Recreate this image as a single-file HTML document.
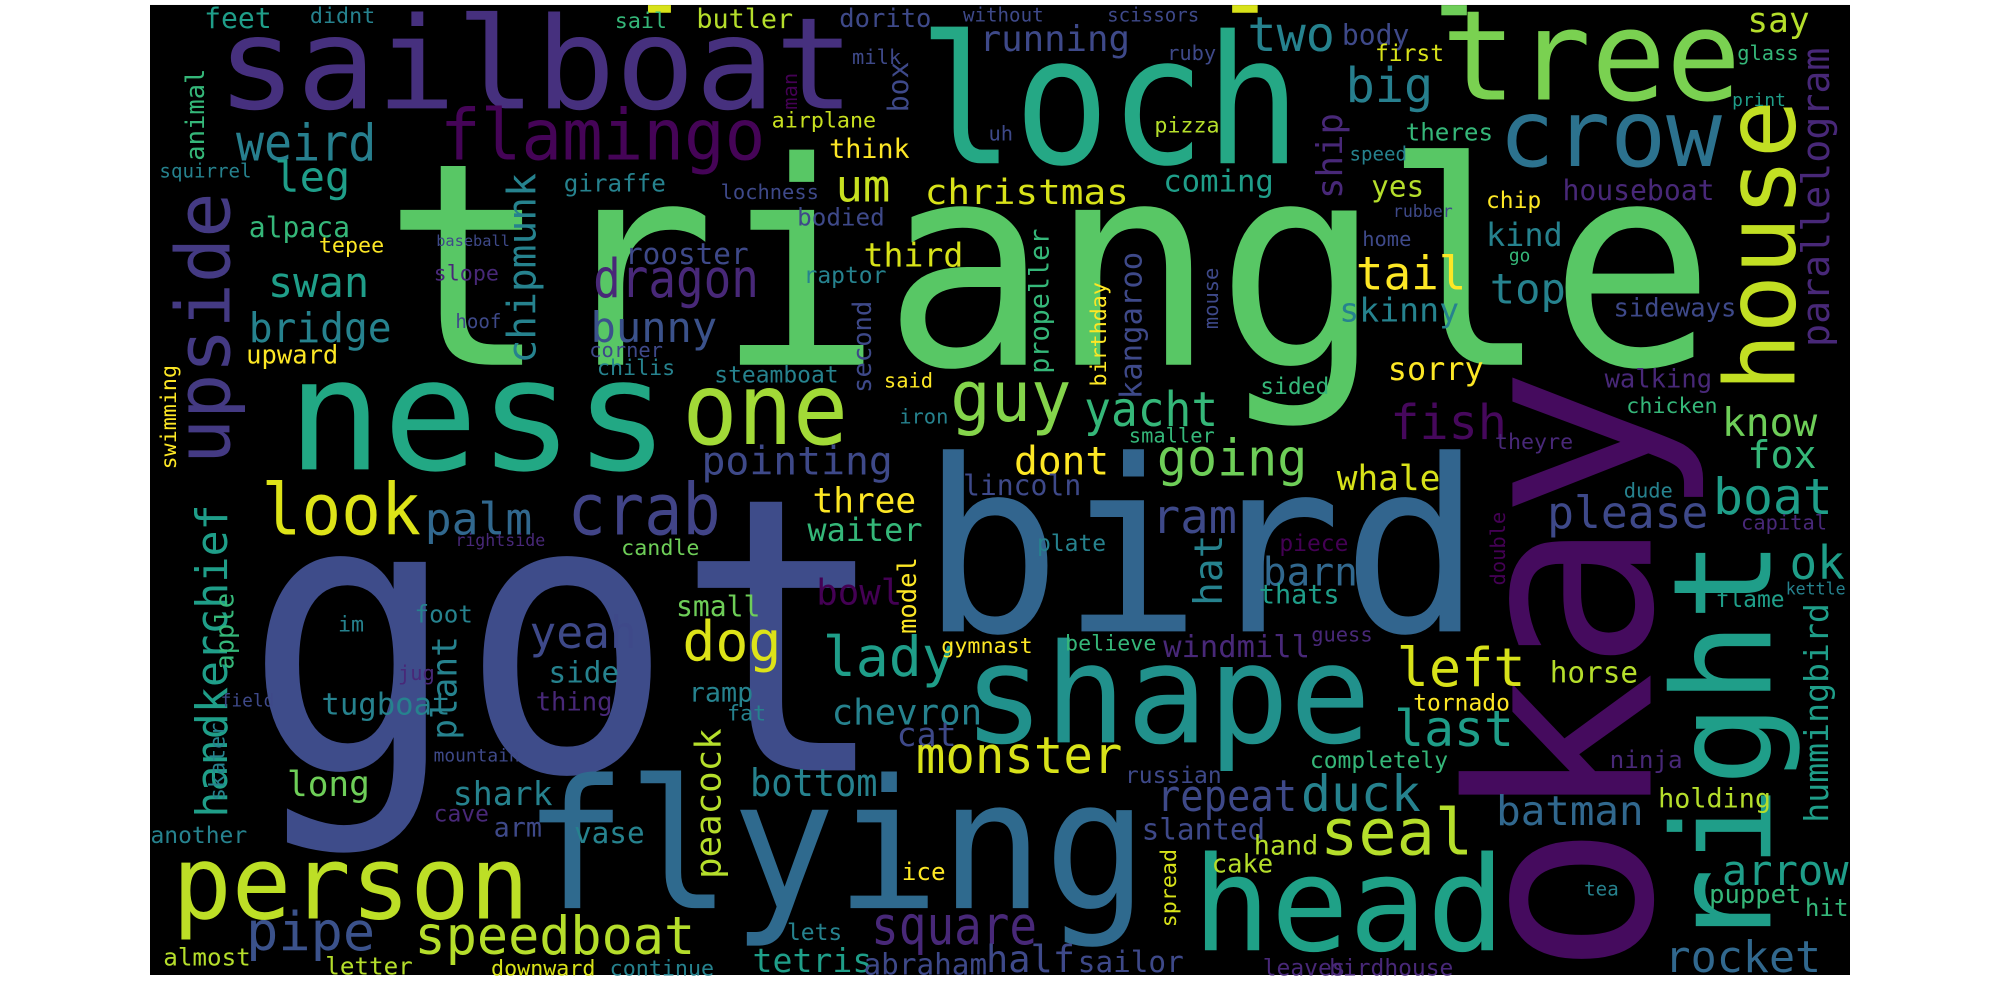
<!DOCTYPE html>
<html><head><meta charset="utf-8"><style>
html,body{margin:0;padding:0;background:#fff;width:2000px;height:1000px;overflow:hidden}
svg text{font-family:"DejaVu Sans Mono","Liberation Mono",monospace}
</style></head><body>
<svg width="2000" height="1000" viewBox="0 0 1568 784">
<rect x="117.6" y="3.9" width="1332.8" height="760.5" fill="#000"/>
<rect x="508" y="4" width="18" height="6" fill="#d8e219"/>
<rect x="966" y="4" width="20" height="6" fill="#d8e219"/>
<rect x="1130" y="4" width="20" height="8" fill="#6ece58"/>
<g id="words">
<text x="191" y="604" font-size="300" fill="#3e4c8a" textLength="507" lengthAdjust="spacingAndGlyphs">got</text>
<text x="300" y="286" font-size="222" fill="#58c765" textLength="1045" lengthAdjust="spacingAndGlyphs">triangle</text>
<text x="722" y="495" font-size="188" fill="#32658e" textLength="440" lengthAdjust="spacingAndGlyphs">bird</text>
<text transform="translate(1294,765) rotate(-90)" font-size="198" fill="#450b5e">okay</text>
<text transform="translate(1388,745) rotate(-90)" font-size="107" fill="#1f9e89">right</text>
<text x="410" y="712" font-size="141" fill="#2f6a8e" textLength="490" lengthAdjust="spacingAndGlyphs">flying</text>
<text x="755" y="582" font-size="108" fill="#21918c" textLength="320" lengthAdjust="spacingAndGlyphs">shape</text>
<text x="225" y="368" font-size="122" fill="#22a884" textLength="300" lengthAdjust="spacingAndGlyphs">ness</text>
<text x="935" y="745" font-size="103" fill="#1fa187" textLength="245" lengthAdjust="spacingAndGlyphs">head</text>
<text x="135" y="720" font-size="80" fill="#bddf26" textLength="280" lengthAdjust="spacingAndGlyphs">person</text>
<text x="170" y="85" font-size="100" fill="#46307e" textLength="500" lengthAdjust="spacingAndGlyphs">sailboat</text>
<text x="720" y="128" font-size="140" fill="#25a885" textLength="300" lengthAdjust="spacingAndGlyphs">loch</text>
<text x="1130" y="78" font-size="98" fill="#7ad151" textLength="235" lengthAdjust="spacingAndGlyphs">tree</text>
<text x="1175" y="130" font-size="73" fill="#2c728e" textLength="175" lengthAdjust="spacingAndGlyphs">crow</text>
<text transform="translate(1407,307) rotate(-90)" font-size="76" fill="#c2df23">house</text>
<text transform="translate(180,364) rotate(-90)" font-size="59" fill="#443a83">upside</text>
<text transform="translate(1434,272) rotate(-90)" font-size="30" fill="#482878">parallelogram</text>
<text transform="translate(1433,645) rotate(-90)" font-size="26" fill="#1f9e89">hummingbird</text>
<text transform="translate(178,641) rotate(-90)" font-size="34" fill="#1f9e89">handkerchief</text>
<text x="535" y="348" font-size="78" fill="#a2da37" textLength="130" lengthAdjust="spacingAndGlyphs">one</text>
<text x="345" y="125" font-size="55" fill="#450457" textLength="255" lengthAdjust="spacingAndGlyphs">flamingo</text>
<text x="205" y="419" font-size="56" fill="#dde318" textLength="125" lengthAdjust="spacingAndGlyphs">look</text>
<text x="445" y="419" font-size="56" fill="#414487" textLength="120" lengthAdjust="spacingAndGlyphs">crab</text>
<text x="745" y="330" font-size="55" fill="#84d44b" textLength="95" lengthAdjust="spacingAndGlyphs">guy</text>
<text x="1035" y="670" font-size="50" fill="#b5de2b" textLength="120" lengthAdjust="spacingAndGlyphs">seal</text>
<text x="185" y="126" font-size="40" fill="#277f8e" textLength="110" lengthAdjust="spacingAndGlyphs">weird</text>
<text x="1055" y="80" font-size="38" fill="#277f8e">big</text>
<text x="978" y="40" font-size="38" fill="#26828e">two</text>
<text x="768" y="40" font-size="28" fill="#3e4989">running</text>
<text x="160" y="22" font-size="22" fill="#1f9e89">feet</text>
<text x="243" y="18" font-size="17" fill="#26828e">didnt</text>
<text x="482" y="22" font-size="17" fill="#35b779">sail</text>
<text x="546" y="22" font-size="21" fill="#b5de2b">butler</text>
<text x="658" y="21" font-size="20" fill="#3e4989">dorito</text>
<text x="755" y="17" font-size="15" fill="#3e4989">without</text>
<text x="868" y="17" font-size="15" fill="#3e4989">scissors</text>
<text x="1052" y="35" font-size="22" fill="#3e4989">body</text>
<text x="1370" y="25" font-size="27" fill="#b5de2b">say</text>
<text x="1078" y="48" font-size="18" fill="#d8e219">first</text>
<text x="1362" y="47" font-size="16" fill="#35b779">glass</text>
<text x="668" y="50" font-size="16" fill="#3e4989">milk</text>
<text x="915" y="47" font-size="16" fill="#3e4989">ruby</text>
<text x="1358" y="83" font-size="14" fill="#1f9e89">print</text>
<text transform="translate(160,126) rotate(-90)" font-size="20" fill="#35b779">animal</text>
<text transform="translate(625,86) rotate(-90)" font-size="16" fill="#440154">man</text>
<text transform="translate(712,88) rotate(-90)" font-size="22" fill="#3e4989">box</text>
<text x="605" y="100" font-size="17" fill="#c8e020">airplane</text>
<text x="775" y="110" font-size="16" fill="#3e4989">uh</text>
<text x="905" y="104" font-size="17" fill="#b5de2b">pizza</text>
<text x="650" y="124" font-size="21" fill="#fde725">think</text>
<text x="1102" y="110" font-size="19" fill="#35b779">theres</text>
<text x="1058" y="126" font-size="15" fill="#26828e">speed</text>
<text x="215" y="150" font-size="33" fill="#1f9e89">leg</text>
<text x="125" y="139" font-size="15" fill="#26828e">squirrel</text>
<text x="442" y="150" font-size="19" fill="#26828e">giraffe</text>
<text x="565" y="156" font-size="16" fill="#3e4989">lochness</text>
<text x="655" y="158" font-size="35" fill="#c8e020" textLength="43" lengthAdjust="spacingAndGlyphs">um</text>
<text x="725" y="160" font-size="27" fill="#d8e219" textLength="160" lengthAdjust="spacingAndGlyphs">christmas</text>
<text x="912" y="150" font-size="24" fill="#1f9e89">coming</text>
<text transform="translate(1052,156) rotate(-90)" font-size="28" fill="#482878">ship</text>
<text x="1075" y="154" font-size="23" fill="#b5de2b">yes</text>
<text x="1165" y="163" font-size="18" fill="#fde725">chip</text>
<text x="1225" y="157" font-size="22" fill="#482878">houseboat</text>
<text x="1092" y="170" font-size="13" fill="#3e4989">rubber</text>
<text x="625" y="177" font-size="19" fill="#3e4989">bodied</text>
<text x="195" y="186" font-size="22" fill="#35b779">alpaca</text>
<text x="250" y="198" font-size="17" fill="#fde725">tepee</text>
<text x="342" y="193" font-size="12" fill="#3e4989">baseball</text>
<text transform="translate(420,285) rotate(-90)" font-size="31" fill="#26828e">chipmunk</text>
<text x="490" y="207" font-size="23" fill="#3e4989">rooster</text>
<text x="677" y="209" font-size="26" fill="#d8e219">third</text>
<text transform="translate(822,293) rotate(-90)" font-size="21" fill="#35b779">propeller</text>
<text transform="translate(895,313) rotate(-90)" font-size="24" fill="#3e4989">kangaroo</text>
<text transform="translate(867,303) rotate(-90)" font-size="17" fill="#fde725">birthday</text>
<text transform="translate(955,258) rotate(-90)" font-size="16" fill="#3e4989">mouse</text>
<text transform="translate(683,308) rotate(-90)" font-size="20" fill="#3e4989">second</text>
<text x="1068" y="193" font-size="16" fill="#3e4989">home</text>
<text x="1183" y="205" font-size="14" fill="#35b779">go</text>
<text x="1165" y="193" font-size="25" fill="#26828e">kind</text>
<text x="340" y="220" font-size="17" fill="#482878">slope</text>
<text x="210" y="233" font-size="33" fill="#1f9e89">swan</text>
<text x="630" y="222" font-size="18" fill="#26828e">raptor</text>
<text x="465" y="233" font-size="42" fill="#482878" textLength="130" lengthAdjust="spacingAndGlyphs">dragon</text>
<text x="1063" y="227" font-size="36" fill="#fde725">tail</text>
<text x="1168" y="238" font-size="33" fill="#26828e">top</text>
<text x="1265" y="248" font-size="20" fill="#3e4989">sideways</text>
<text x="357" y="257" font-size="15" fill="#3e4989">hoof</text>
<text x="195" y="268" font-size="32" fill="#26828e" textLength="112" lengthAdjust="spacingAndGlyphs">bridge</text>
<text x="463" y="268" font-size="33" fill="#3b528b">bunny</text>
<text x="1050" y="252" font-size="26" fill="#26828e">skinny</text>
<text x="193" y="285" font-size="20" fill="#fde725">upward</text>
<text x="462" y="280" font-size="16" fill="#3e4989">corner</text>
<text x="468" y="294" font-size="17" fill="#26828e">chilis</text>
<text x="560" y="300" font-size="18" fill="#26828e">steamboat</text>
<text x="693" y="304" font-size="16" fill="#fde725">said</text>
<text x="988" y="309" font-size="18" fill="#35b779">sided</text>
<text x="1088" y="298" font-size="25" fill="#fde725">sorry</text>
<text x="1258" y="304" font-size="20" fill="#482878">walking</text>
<text transform="translate(138,368) rotate(-90)" font-size="17" fill="#fde725">swimming</text>
<text x="850" y="334" font-size="38" fill="#35b779" textLength="105" lengthAdjust="spacingAndGlyphs">yacht</text>
<text x="1090" y="344" font-size="38" fill="#46085c">fish</text>
<text x="1350" y="342" font-size="31" fill="#6ece58">know</text>
<text x="1275" y="324" font-size="17" fill="#35b779">chicken</text>
<text x="705" y="332" font-size="16" fill="#26828e">iron</text>
<text x="885" y="347" font-size="16" fill="#35b779">smaller</text>
<text x="1172" y="352" font-size="17" fill="#482878">theyre</text>
<text x="1370" y="367" font-size="30" fill="#35b779">fox</text>
<text x="550" y="372" font-size="31" fill="#3e4989" textLength="150" lengthAdjust="spacingAndGlyphs">pointing</text>
<text x="795" y="372" font-size="31" fill="#fde725">dont</text>
<text x="907" y="373" font-size="40" fill="#6ece58" textLength="118" lengthAdjust="spacingAndGlyphs">going</text>
<text x="1048" y="384" font-size="27" fill="#d8e219">whale</text>
<text x="1343" y="403" font-size="39" fill="#1f9e89">boat</text>
<text x="333" y="419" font-size="35" fill="#31688e">palm</text>
<text x="755" y="388" font-size="22" fill="#3e4989">lincoln</text>
<text x="637" y="402" font-size="27" fill="#fde725">three</text>
<text x="633" y="424" font-size="25" fill="#35b779">waiter</text>
<text x="903" y="418" font-size="37" fill="#3e4989">ram</text>
<text x="1213" y="414" font-size="35" fill="#3e4989">please</text>
<text x="1273" y="390" font-size="16" fill="#26828e">dude</text>
<text x="1365" y="415" font-size="16" fill="#482878">capital</text>
<text x="357" y="428" font-size="13" fill="#482878">rightside</text>
<text x="487" y="435" font-size="17" fill="#6ece58">candle</text>
<text x="813" y="432" font-size="18" fill="#26828e">plate</text>
<text x="1003" y="432" font-size="18" fill="#440154">piece</text>
<text transform="translate(1180,459) rotate(-90)" font-size="16" fill="#440154">double</text>
<text x="1403" y="454" font-size="36" fill="#1f9e89">ok</text>
<text x="990" y="459" font-size="31" fill="#31688e">barn</text>
<text transform="translate(958,475) rotate(-90)" font-size="31" fill="#26828e">hat</text>
<text x="987" y="473" font-size="21" fill="#1f9e89">thats</text>
<text x="640" y="474" font-size="28" fill="#440154">bowl</text>
<text transform="translate(718,497) rotate(-90)" font-size="20" fill="#fde725">model</text>
<text transform="translate(183,525) rotate(-90)" font-size="20" fill="#35b779">apple</text>
<text x="1400" y="466" font-size="13" fill="#26828e">kettle</text>
<text x="1345" y="476" font-size="18" fill="#1f9e89">flame</text>
<text x="265" y="495" font-size="17" fill="#26828e">im</text>
<text x="325" y="488" font-size="19" fill="#26828e">foot</text>
<text x="530" y="483" font-size="22" fill="#6ece58">small</text>
<text x="415" y="508" font-size="35" fill="#3e4989">yeah</text>
<text x="535" y="518" font-size="43" fill="#dde318">dog</text>
<text x="645" y="530" font-size="43" fill="#1f9e89">lady</text>
<text x="738" y="512" font-size="17" fill="#fde725">gymnast</text>
<text x="835" y="510" font-size="17" fill="#35b779">believe</text>
<text x="912" y="515" font-size="24" fill="#482878" textLength="115" lengthAdjust="spacingAndGlyphs">windmill</text>
<text x="1028" y="503" font-size="16" fill="#482878">guess</text>
<text x="1095" y="538" font-size="42" fill="#d8e219">left</text>
<text x="1215" y="535" font-size="23" fill="#b5de2b">horse</text>
<text x="430" y="535" font-size="23" fill="#26828e">side</text>
<text x="312" y="533" font-size="16" fill="#482878">jug</text>
<text transform="translate(358,580) rotate(-90)" font-size="27" fill="#26828e">plant</text>
<text x="540" y="550" font-size="21" fill="#26828e">ramp</text>
<text x="173" y="554" font-size="14" fill="#3e4989">field</text>
<text x="252" y="560" font-size="24" fill="#26828e">tugboat</text>
<text x="420" y="557" font-size="20" fill="#482878">thing</text>
<text x="570" y="565" font-size="17" fill="#26828e">fat</text>
<text x="652" y="568" font-size="28" fill="#26828e">chevron</text>
<text x="703" y="585" font-size="26" fill="#3e4989">cat</text>
<text x="1108" y="557" font-size="18" fill="#fde725">tornado</text>
<text x="1093" y="585" font-size="39" fill="#1f9e89">last</text>
<text transform="translate(176,628) rotate(-90)" font-size="17" fill="#26828e">skater</text>
<text x="340" y="597" font-size="14" fill="#3e4989">mountain</text>
<text x="1027" y="602" font-size="18" fill="#35b779">completely</text>
<text x="1262" y="602" font-size="19" fill="#482878">ninja</text>
<text x="718" y="606" font-size="40" fill="#d8e219" textLength="162" lengthAdjust="spacingAndGlyphs">monster</text>
<text x="882" y="614" font-size="18" fill="#3e4989">russian</text>
<text transform="translate(565,689) rotate(-90)" font-size="28" fill="#b5de2b">peacock</text>
<text x="588" y="624" font-size="30" fill="#26828e" textLength="100" lengthAdjust="spacingAndGlyphs">bottom</text>
<text x="225" y="624" font-size="27" fill="#6ece58">long</text>
<text x="355" y="631" font-size="26" fill="#26828e">shark</text>
<text x="340" y="644" font-size="18" fill="#482878">cave</text>
<text x="907" y="636" font-size="34" fill="#3e4989" textLength="110" lengthAdjust="spacingAndGlyphs">repeat</text>
<text x="1020" y="636" font-size="39" fill="#26828e">duck</text>
<text x="1173" y="647" font-size="32" fill="#31688e">batman</text>
<text x="1300" y="633" font-size="21" fill="#b5de2b">holding</text>
<text x="118" y="661" font-size="18" fill="#26828e">another</text>
<text x="387" y="656" font-size="21" fill="#3e4989">arm</text>
<text x="450" y="661" font-size="23" fill="#26828e">vase</text>
<text x="895" y="658" font-size="23" fill="#3e4989">slanted</text>
<text x="983" y="670" font-size="21" fill="#b5de2b">hand</text>
<text transform="translate(922,727) rotate(-90)" font-size="17" fill="#d8e219">spread</text>
<text x="950" y="684" font-size="20" fill="#b5de2b">cake</text>
<text x="1350" y="694" font-size="33" fill="#1f9e89">arrow</text>
<text x="707" y="690" font-size="19" fill="#fde725">ice</text>
<text x="1242" y="702" font-size="15" fill="#26828e">tea</text>
<text x="1340" y="708" font-size="20" fill="#35b779">puppet</text>
<text x="1415" y="718" font-size="19" fill="#35b779">hit</text>
<text x="617" y="737" font-size="18" fill="#26828e">lets</text>
<text x="683" y="740" font-size="42" fill="#482878" textLength="130" lengthAdjust="spacingAndGlyphs">square</text>
<text x="193" y="745" font-size="42" fill="#3b528b">pipe</text>
<text x="325" y="748" font-size="41" fill="#b5de2b" textLength="220" lengthAdjust="spacingAndGlyphs">speedboat</text>
<text x="1305" y="762" font-size="34" fill="#31688e">rocket</text>
<text x="128" y="757" font-size="19" fill="#b5de2b">almost</text>
<text x="255" y="764" font-size="19" fill="#b5de2b">letter</text>
<text x="385" y="765" font-size="17" fill="#d8e219">downward</text>
<text x="478" y="765" font-size="17" fill="#26828e">continue</text>
<text x="590" y="762" font-size="26" fill="#1f9e89">tetris</text>
<text x="677" y="764" font-size="23" fill="#3e4989">abraham</text>
<text x="773" y="762" font-size="29" fill="#3e4989">half</text>
<text x="845" y="762" font-size="23" fill="#3e4989">sailor</text>
<text x="990" y="765" font-size="18" fill="#482878">leaves</text>
<text x="1042" y="765" font-size="18" fill="#482878">birdhouse</text>
</g>
</svg>
</body></html>
